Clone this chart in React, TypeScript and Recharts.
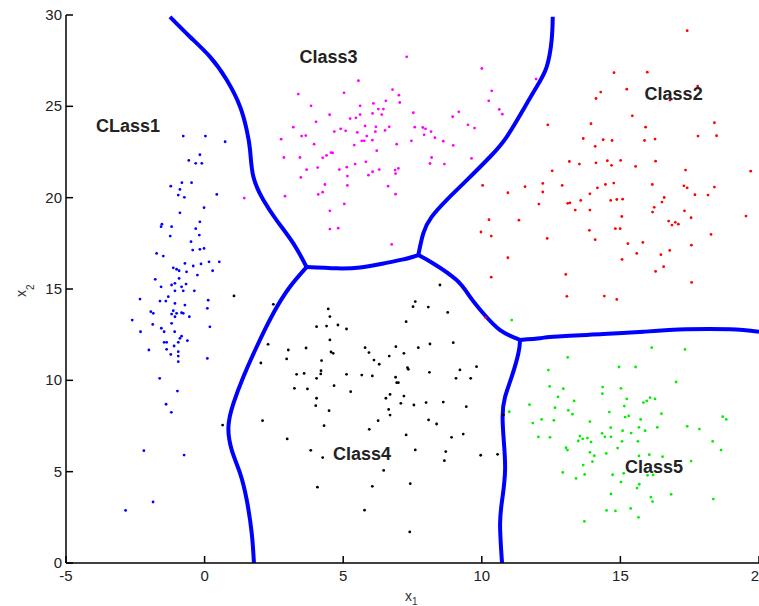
import { ComposedChart, Scatter, Line, XAxis, YAxis, ReferenceDot } from 'recharts';

type Pt = [number, number];

const X_TICKS = [-5, 0, 5, 10, 15, 20];
const Y_TICKS = [0, 5, 10, 15, 20, 25, 30];

const class1: Pt[] = [
  [-0.77, 23.37], [0.03, 23.37], [0.74, 23.06], [-0.57, 22.04], [-0.32, 21.88], [-0.17, 22.35], [-0.1, 21.88],
  [-1.22, 20.63], [-0.82, 20.82], [-0.47, 20.82], [-0.89, 20.45], [-0.95, 20.14], [-0.73, 20.02], [0.44, 20.18],
  [-0.89, 19.17], [-0.02, 19.45], [-1.54, 18.55], [-1.57, 18.41], [-1.19, 18.41], [-0.17, 18.68], [-0.32, 18.3],
  [-1.24, 17.9], [-0.19, 17.95], [-0.49, 17.59], [-0.43, 17.13], [-0.17, 17.17], [-0.02, 17.22], [-1.73, 16.95],
  [-1.49, 16.8], [-0.71, 16.4], [-0.41, 16.26], [-0.13, 16.37], [0.16, 16.49], [0.53, 16.49], [-1.13, 16.16],
  [-1.01, 16.08], [-0.92, 16.0], [-0.65, 15.94], [-0.26, 15.76], [0.29, 16.0], [-1.78, 15.53], [-0.92, 15.58],
  [-1.57, 15.12], [-1.19, 15.22], [-1.07, 15.31], [-0.83, 15.12], [-0.67, 15.27], [-1.07, 14.9], [-0.77, 14.9],
  [-0.37, 14.9], [-2.33, 14.45], [-1.61, 14.34], [-1.4, 14.34], [-1.07, 14.21], [-0.71, 14.12], [-1.31, 14.58],
  [0.13, 14.39], [0.1, 13.94], [0.19, 12.93], [-1.94, 13.76], [-1.85, 13.67], [-1.13, 13.81], [-1.19, 13.63],
  [-1.01, 13.67], [-0.83, 13.7], [-0.77, 13.67], [-1.07, 13.48], [-0.55, 13.48], [-2.61, 13.3], [-1.87, 13.06],
  [-1.19, 13.12], [-2.31, 12.66], [-1.56, 12.85], [-1.46, 12.66], [-1.08, 12.66], [-0.83, 12.42], [-0.89, 12.3],
  [-0.62, 12.17], [-1.46, 12.08], [-1.37, 12.08], [-0.95, 12.08], [-1.1, 11.88], [-1.37, 11.7], [-2.01, 11.66],
  [-0.95, 11.57], [-1.22, 11.42], [-0.95, 11.33], [-0.95, 11.02], [0.1, 11.2], [-1.62, 10.11], [-0.98, 9.41],
  [-1.39, 8.69], [-1.2, 8.25], [-2.19, 6.15], [-0.74, 5.91], [-1.86, 3.34], [-2.85, 2.88],
];

const class2: Pt[] = [
  [17.41, 29.14], [15.97, 26.87], [14.77, 26.84], [15.23, 25.94], [14.29, 25.78], [14.12, 25.43], [17.79, 26.11],
  [16.79, 25.34], [15.43, 24.48], [12.38, 23.99], [13.94, 24.05], [15.91, 23.86], [18.39, 24.1], [17.8, 23.37],
  [18.47, 23.39], [13.66, 23.24], [14.38, 23.17], [14.7, 23.13], [14.09, 22.81], [15.87, 23.13], [16.25, 23.21],
  [13.16, 21.98], [13.52, 21.84], [14.12, 21.91], [14.53, 22.02], [14.68, 21.77], [15.01, 22.04], [15.55, 21.71],
  [16.27, 22.0], [17.35, 21.51], [19.7, 21.45], [12.54, 21.47], [10.03, 20.67], [11.56, 20.6], [12.2, 20.78],
  [12.2, 20.31], [12.9, 20.67], [14.17, 20.54], [14.46, 20.72], [14.76, 20.8], [16.15, 20.72], [17.29, 20.65],
  [17.41, 20.54], [18.39, 20.58], [10.94, 20.27], [13.9, 20.21], [17.69, 20.16], [18.16, 20.14], [12.06, 19.65],
  [13.1, 19.69], [13.18, 19.72], [13.57, 19.85], [14.65, 19.85], [14.87, 19.9], [15.08, 19.92], [16.58, 20.01],
  [16.5, 19.76], [13.37, 19.32], [13.9, 19.32], [16.22, 19.47], [16.16, 19.21], [17.31, 19.28], [15.05, 18.97],
  [17.55, 18.9], [19.53, 18.99], [10.26, 18.79], [11.34, 18.77], [16.74, 18.72], [16.86, 18.5], [16.98, 18.65],
  [17.09, 18.55], [9.97, 18.12], [10.34, 17.9], [13.88, 18.21], [14.82, 18.3], [14.99, 18.3], [12.36, 17.77],
  [14.09, 17.7], [15.27, 17.48], [15.81, 17.55], [17.56, 17.4], [18.27, 17.99], [15.59, 16.95], [16.46, 16.88],
  [16.78, 17.11], [10.94, 16.71], [15.06, 16.62], [16.27, 15.96], [16.56, 16.22], [10.34, 15.65], [13.03, 15.8],
  [17.57, 15.36], [13.07, 14.6], [14.42, 14.61], [14.87, 14.43], [10.14, 13.43],
];

const class3: Pt[] = [
  [7.29, 27.71], [10.0, 27.07], [5.55, 26.4], [3.38, 25.67], [5.03, 25.74], [6.78, 25.92], [7.01, 25.61],
  [10.36, 25.85], [10.25, 25.3], [3.84, 25.03], [5.61, 25.03], [6.09, 25.16], [6.54, 25.3], [7.04, 25.21],
  [4.51, 24.54], [4.02, 24.15], [5.25, 24.33], [5.46, 24.37], [5.61, 24.55], [6.06, 24.61], [6.27, 24.85],
  [6.45, 24.85], [6.39, 24.55], [7.53, 24.65], [9.17, 24.7], [8.95, 24.43], [10.63, 24.83], [10.74, 24.57],
  [3.2, 23.86], [4.91, 23.77], [5.09, 23.66], [4.68, 23.62], [5.51, 23.57], [5.79, 23.93], [6.18, 23.88],
  [6.16, 23.61], [6.51, 23.68], [6.66, 23.88], [7.58, 23.86], [7.87, 23.84], [7.97, 23.77], [8.17, 23.62],
  [9.5, 23.99], [9.74, 23.81], [2.76, 23.2], [3.5, 23.37], [3.65, 23.4], [5.85, 23.37], [5.67, 23.11],
  [5.76, 23.11], [6.05, 23.15], [7.92, 23.44], [8.31, 23.28], [8.61, 23.09], [3.95, 22.93], [5.4, 22.88],
  [6.93, 22.93], [7.46, 23.11], [8.97, 22.86], [2.86, 22.2], [3.44, 22.2], [4.26, 22.18], [4.4, 22.31],
  [4.56, 22.47], [4.62, 22.45], [6.21, 22.57], [8.19, 22.2], [9.63, 22.15], [8.13, 21.87], [8.65, 21.84],
  [3.68, 21.53], [4.08, 21.65], [4.86, 21.54], [5.13, 21.67], [5.43, 21.84], [5.82, 21.96], [6.06, 21.42],
  [6.3, 21.54], [5.91, 21.23], [6.87, 21.51], [6.99, 21.6], [6.89, 21.32], [5.15, 21.18], [3.47, 21.11],
  [4.34, 20.72], [5.15, 20.67], [6.62, 20.63], [4.26, 20.3], [4.1, 20.18], [2.9, 20.08], [6.89, 20.19],
  [5.04, 19.66], [4.52, 19.28], [4.52, 18.28], [4.82, 18.33], [6.75, 17.44], [1.43, 19.98], [11.96, 26.49],
];

const class4: Pt[] = [
  [1.06, 14.62], [2.48, 14.16], [8.49, 15.22], [7.6, 14.31], [7.52, 14.03], [8.07, 14.01], [8.77, 13.72],
  [7.27, 13.21], [4.46, 13.91], [4.52, 13.49], [4.04, 12.94], [4.4, 12.97], [4.81, 13.03], [5.12, 12.81],
  [4.52, 12.21], [2.29, 11.97], [3.02, 11.66], [3.66, 11.77], [4.56, 11.55], [4.64, 11.48], [2.96, 11.17],
  [4.22, 11.08], [2.03, 10.95], [5.79, 11.79], [5.93, 11.52], [6.9, 11.84], [7.19, 11.48], [7.71, 11.79],
  [8.13, 11.99], [8.97, 12.06], [6.66, 11.33], [6.11, 11.11], [6.3, 10.88], [7.32, 10.69], [7.35, 10.6],
  [9.21, 10.57], [9.81, 10.75], [8.11, 10.44], [9.07, 10.11], [9.6, 10.11], [3.32, 10.33], [3.59, 10.38],
  [4.2, 10.53], [4.19, 10.35], [4.04, 10.11], [5.12, 10.33], [5.67, 10.29], [6.05, 10.24], [6.89, 10.17],
  [6.93, 9.87], [6.99, 9.87], [3.24, 9.56], [3.71, 9.53], [4.67, 9.71], [5.27, 9.38], [6.69, 9.23],
  [6.54, 9.02], [7.19, 9.14], [4.04, 9.02], [4.01, 8.61], [4.49, 8.34], [7.08, 8.74], [7.55, 8.65],
  [7.99, 8.78], [8.61, 8.81], [9.44, 8.56], [6.64, 8.41], [6.69, 8.1], [2.09, 7.79], [4.31, 7.52],
  [6.26, 7.79], [5.94, 7.32], [8.08, 7.83], [8.37, 7.61], [7.27, 7.01], [8.91, 6.88], [9.33, 7.06],
  [2.98, 6.79], [3.83, 6.17], [4.26, 5.77], [7.6, 6.19], [8.7, 6.1], [8.65, 5.6], [9.96, 5.9], [10.57, 5.95],
  [6.46, 5.07], [7.42, 4.34], [6.05, 4.2], [4.07, 4.15], [5.77, 2.89], [7.4, 1.7], [0.65, 7.55], [10.78, 8.1],
];

const class5: Pt[] = [
  [16.13, 11.79], [17.33, 11.69], [13.1, 11.26], [14.95, 10.73], [15.55, 10.73], [12.4, 10.56], [17.01, 9.91],
  [12.45, 9.67], [12.94, 9.54], [14.36, 9.63], [15.02, 9.56], [14.35, 9.27], [12.75, 9.09], [13.33, 8.87],
  [15.23, 8.98], [15.83, 8.78], [15.95, 8.87], [16.07, 9.05], [16.25, 8.98], [11.72, 8.67], [12.64, 8.5],
  [13.12, 8.36], [13.27, 8.15], [15.14, 8.59], [14.6, 8.26], [16.48, 8.17], [10.99, 8.28], [15.17, 7.99],
  [15.3, 8.05], [18.69, 8.01], [18.82, 7.86], [11.84, 7.66], [12.16, 7.86], [12.6, 7.81], [13.9, 7.74],
  [15.73, 7.86], [14.65, 7.41], [15.08, 7.24], [15.39, 7.11], [15.67, 7.43], [15.89, 7.24], [16.33, 7.43],
  [17.41, 7.48], [17.85, 7.33], [14.34, 7.1], [14.44, 6.91], [14.66, 6.91], [12.04, 6.9], [12.46, 6.88],
  [13.54, 6.95], [13.64, 6.8], [13.81, 6.84], [13.48, 6.68], [13.94, 6.62], [15.06, 6.66], [15.63, 6.66],
  [18.33, 6.66], [13.04, 6.31], [13.09, 6.18], [14.9, 6.29], [18.63, 6.18], [13.9, 6.06], [14.06, 5.87],
  [14.49, 6.0], [15.67, 5.86], [16.04, 5.93], [16.52, 5.82], [17.55, 5.58], [13.99, 5.55], [13.66, 5.36],
  [12.92, 4.96], [13.71, 4.85], [13.4, 4.63], [14.72, 4.83], [15.12, 4.91], [15.98, 4.8], [16.18, 4.82],
  [15.02, 4.43], [15.68, 4.31], [15.6, 4.1], [14.66, 3.78], [16.83, 3.76], [16.1, 3.61], [16.16, 3.36],
  [18.35, 3.5], [14.5, 2.88], [14.82, 2.85], [15.37, 2.99], [15.65, 2.5], [13.7, 2.28], [11.08, 13.3],
];

// decision boundaries, traced from junction to edge
const boundaries: Pt[][] = [
  [[-1.25, 29.9], [-0.53, 28.81], [0.19, 27.72], [0.8, 26.44], [1.28, 24.98], [1.52, 23.7], [1.64, 22.61],
    [1.76, 21.14], [2.12, 19.87], [2.6, 18.76], [3.2, 17.5], [3.68, 16.2]],
  [[3.68, 16.2], [4.77, 16.13], [5.61, 16.18], [6.45, 16.4], [7.17, 16.62], [7.71, 16.86]],
  [[7.71, 16.86], [7.89, 18.05], [8.19, 18.95], [8.73, 19.87], [9.46, 20.96], [10.3, 22.24], [10.9, 23.33],
    [11.5, 24.83], [11.98, 26.07], [12.34, 27.16], [12.52, 28.63], [12.56, 29.9]],
  [[7.71, 16.86], [8.25, 16.4], [9.09, 15.49], [9.57, 14.58], [10.05, 13.67], [10.66, 12.75], [11.38, 12.21]],
  [[11.38, 12.21], [12.1, 12.3], [12.58, 12.39], [14.38, 12.53], [15.83, 12.66], [17.39, 12.79], [18.95, 12.79],
    [20.0, 12.66]],
  [[11.38, 12.21], [11.32, 11.48], [11.08, 10.2], [10.84, 9.1], [10.75, 8.01], [10.8, 6.55], [10.84, 5.09],
    [10.75, 3.63], [10.66, 2.17], [10.73, 0]],
  [[3.68, 16.2], [3.08, 15.12], [2.48, 13.67], [1.88, 11.84], [1.4, 10.2], [1.04, 8.74], [0.86, 7.46],
    [0.98, 6.18], [1.28, 4.91], [1.52, 3.45], [1.7, 1.63], [1.78, 0]],
];

const classNames = ['CLass1', 'Class2', 'Class3', 'Class4', 'Class5'];
const labelX = [-2.76, 16.92, 4.47, 5.68, 16.21];
const labelY = [23.92, 25.67, 27.71, 5.97, 5.27];

const FONT = '"Liberation Sans", Arial, Helvetica, sans-serif';

const toObj = (pts: Pt[]) => pts.map(([x, y]) => ({ x, y }));

const series = [
  { name: 'Class1', pts: class1, color: '#0000ff' },
  { name: 'Class2', pts: class2, color: '#ff0000' },
  { name: 'Class3', pts: class3, color: '#ff00ff' },
  { name: 'Class4', pts: class4, color: '#000000' },
  { name: 'Class5', pts: class5, color: '#00ee00' },
];

function XTick({ x, y, payload }: any) {
  return (
    <g>
      <line x1={x} x2={x} y1={y} y2={y - 7} stroke="#000" strokeWidth={1.5} />
      <text x={x} y={y + 18} textAnchor="middle" fontSize={15} fill="#222" fontFamily={FONT}>
        {payload.value}
      </text>
    </g>
  );
}

function YTick({ x, y, payload }: any) {
  return (
    <g>
      <line x1={x} x2={x + 7} y1={y} y2={y} stroke="#000" strokeWidth={1.5} />
      <text x={x - 4} y={y + 5} textAnchor="end" fontSize={15} fill="#222" fontFamily={FONT}>
        {payload.value}
      </text>
    </g>
  );
}

const xLabel = () => (
  <text x={405} y={601} fontSize={14} fill="#333" fontFamily={FONT}>
    x<tspan dy={4} fontSize={10}>1</tspan>
  </text>
);

const yLabel = () => (
  <text transform="translate(26,297) rotate(-90)" fontSize={14} fill="#333" fontFamily={FONT}>
    x<tspan dy={8} fontSize={10}>2</tspan>
  </text>
);

export default function App() {
  return (
    <div style={{ position: 'absolute', left: 0, top: 0, background: '#fff' }}>
      <ComposedChart width={759} height={606} margin={{ top: 15, right: 0, bottom: 0, left: 0 }}>
        <XAxis
          type="number"
          dataKey="x"
          domain={[-5, 20]}
          ticks={X_TICKS}
          interval={0}
          allowDataOverflow
          height={43}
          tickSize={0}
          tickMargin={0}
          tickLine={false}
          axisLine={{ stroke: '#000', strokeWidth: 1.5 }}
          tick={<XTick />}
          label={xLabel}
        />
        <YAxis
          type="number"
          dataKey="y"
          domain={[0, 30]}
          ticks={Y_TICKS}
          interval={0}
          allowDataOverflow
          width={66}
          tickSize={0}
          tickMargin={0}
          tickLine={false}
          axisLine={{ stroke: '#000', strokeWidth: 1.5 }}
          tick={<YTick />}
          label={yLabel}
        />
        {series.map((s) => (
          <Scatter
            key={s.name}
            name={s.name}
            data={toObj(s.pts)}
            isAnimationActive={false}
            shape={(p: any) => <circle cx={p.cx} cy={p.cy} r={1.4} fill={s.color} />}
          />
        ))}
        {boundaries.map((b, i) => (
          <Line
            key={'b' + i}
            data={toObj(b)}
            dataKey="y"
            type="natural"
            stroke="#0000ff"
            strokeWidth={4}
            strokeLinejoin="round"
            dot={false}
            activeDot={false}
            isAnimationActive={false}
          />
        ))}
        {classNames.map((n, i) => (
          <ReferenceDot
            key={n}
            x={labelX[i]}
            y={labelY[i]}
            r={0}
            fill="none"
            stroke="none"
            label={{ value: n, position: 'center', fontSize: 18, fontWeight: 'bold', fill: '#222', fontFamily: FONT }}
          />
        ))}
      </ComposedChart>
    </div>
  );
}
